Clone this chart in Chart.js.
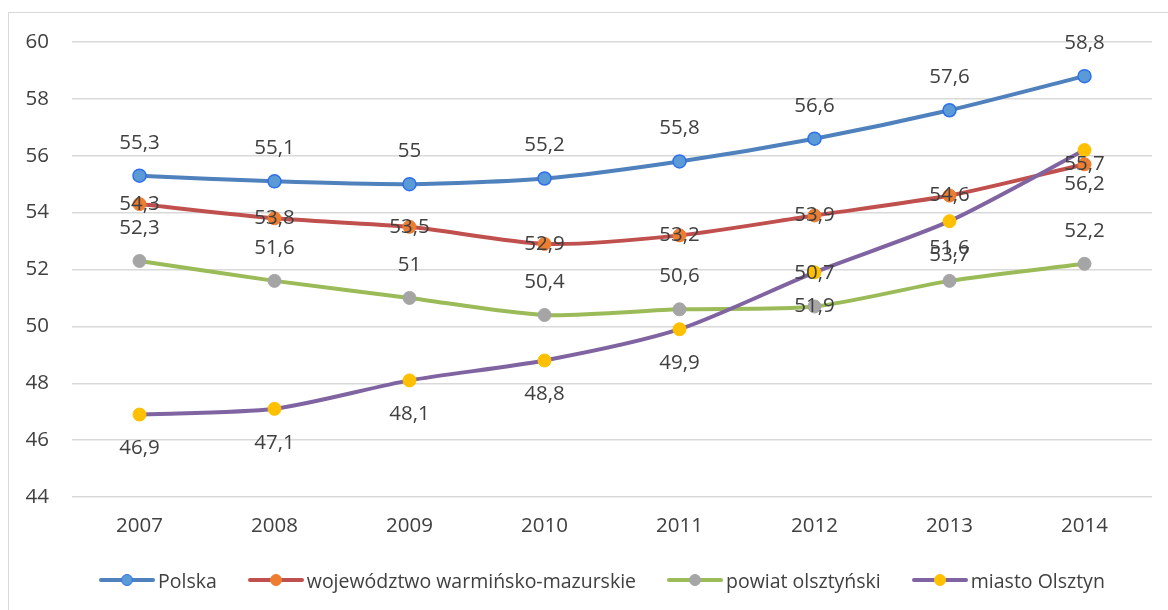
<!doctype html>
<html lang="pl">
<head>
    <meta charset="utf-8">
    <title>Wskaźnik 2007-2014</title>
    <script src="https://cdn.jsdelivr.net/npm/chart.js@4.4.1/dist/chart.umd.min.js"></script>
    <style>
        html, body {
            margin: 0;
            padding: 0;
            background: #ffffff;
            overflow: hidden;
        }
        .frame {
            position: absolute;
            left: 8px;
            top: 12px;
            width: 1200px;
            height: 640px;
            border: 1px solid #d9d9d9;
        }
        .wrap {
            position: absolute;
            left: 0;
            top: 0;
            width: 1168px;
            height: 610px;
        }
        .legend {
            position: absolute;
            left: 99px;
            top: 566px;
            height: 28px;
            display: flex;
            align-items: center;
            font-family: "Open Sans", sans-serif;
            font-size: 19.5px;
            color: #404040;
            white-space: nowrap;
        }
        .legend .item {
            display: flex;
            align-items: center;
            margin-right: 31px;
        }
        .legend .swatch {
            position: relative;
            width: 56px;
            height: 12px;
            margin-right: 3px;
        }
        .legend .swatch .ln {
            position: absolute;
            left: 0;
            top: 4px;
            width: 56px;
            height: 4px;
            border-radius: 2px;
        }
        .legend .swatch .dot {
            position: absolute;
            left: 22px;
            top: 0;
            width: 12px;
            height: 12px;
            box-sizing: border-box;
            border-radius: 50%;
        }
    </style>
</head>
<body>
<div class="frame"></div>
<div class="wrap">
    <canvas id="lineCanvas" width="1168" height="610"></canvas>
</div>
<div class="legend" id="legend"></div>

<script>
    // dane
    const years = ['2007', '2008', '2009', '2010', '2011', '2012', '2013', '2014'];
    const seriesNames = ['Polska', 'województwo warmińsko-mazurskie', 'powiat olsztyński', 'miasto Olsztyn'];
    const polska = [55.3, 55.1, 55, 55.2, 55.8, 56.6, 57.6, 58.8];
    const wojewodztwo = [54.3, 53.8, 53.5, 52.9, 53.2, 53.9, 54.6, 55.7];
    const powiat = [52.3, 51.6, 51, 50.4, 50.6, 50.7, 51.6, 52.2];
    const olsztyn = [46.9, 47.1, 48.1, 48.8, 49.9, 51.9, 53.7, 56.2];
    const yTicks = [44, 46, 48, 50, 52, 54, 56, 58, 60];

    const lineColors = ['#4f81bd', '#c0504d', '#9bbb59', '#8064a2'];
    const pointColors = ['#5b9bd5', '#ed7d31', '#a5a5a5', '#ffc000'];
    const pointBorders = ['#2f6fef', '#ed7d31', '#a5a5a5', '#ffc000'];
    const labelPlace = ['above', 'center', 'above', 'below'];

    const fontFamily = '"Open Sans", sans-serif';
    const textColor = '#404040';

    function formatPl(v) {
        return String(v).replace('.', ',');
    }

    // etykiety danych rysowane nad wszystkimi seriami
    const valueLabels = {
        id: 'valueLabels',
        afterDatasetsDraw(chart) {
            const ctx = chart.ctx;
            ctx.save();
            ctx.font = '20.5px ' + fontFamily;
            ctx.fillStyle = textColor;
            ctx.textAlign = 'center';
            ctx.textBaseline = 'middle';
            chart.data.datasets.forEach(function (ds, i) {
                const meta = chart.getDatasetMeta(i);
                meta.data.forEach(function (pt, j) {
                    let dy = 0;
                    if (labelPlace[i] === 'above') dy = -33;
                    if (labelPlace[i] === 'below') dy = 34;
                    ctx.fillText(formatPl(ds.data[j]), pt.x, pt.y + dy);
                });
            });
            ctx.restore();
        }
    };

    const allData = [polska, wojewodztwo, powiat, olsztyn];
    const datasets = allData.map(function (values, i) {
        return {
            label: seriesNames[i],
            data: values,
            borderColor: lineColors[i],
            borderWidth: 4,
            backgroundColor: pointColors[i],
            pointBackgroundColor: pointColors[i],
            pointBorderColor: pointBorders[i],
            pointBorderWidth: i === 0 ? 1.5 : 1,
            pointRadius: 6.5,
            pointHoverRadius: 6.5,
            tension: 0.25,
            order: 3 - i
        };
    });

    new Chart(document.getElementById('lineCanvas'), {
        type: 'line',
        data: {
            labels: years,
            datasets: datasets
        },
        options: {
            responsive: false,
            animation: false,
            layout: {
                padding: {top: 42, right: 16, bottom: 0, left: 0}
            },
            plugins: {
                legend: {display: false},
                tooltip: {enabled: false}
            },
            scales: {
                x: {
                    offset: true,
                    grid: {display: false, drawTicks: false},
                    border: {display: false},
                    ticks: {
                        color: textColor,
                        font: {family: fontFamily, size: 20.5},
                        padding: 17
                    },
                    afterFit: function (scale) {
                        scale.height = 113;
                    }
                },
                y: {
                    min: 44,
                    max: 60,
                    afterBuildTicks: function (scale) {
                        scale.ticks = yTicks.map(function (v) {
                            return {value: v};
                        });
                    },
                    grid: {color: '#d9d9d9', lineWidth: 1.5, drawTicks: false},
                    border: {display: false},
                    ticks: {
                        color: textColor,
                        font: {family: fontFamily, size: 20.5},
                        padding: 23
                    },
                    afterFit: function (scale) {
                        scale.width = 72;
                    }
                }
            }
        },
        plugins: [valueLabels]
    });

    // legenda
    const legend = document.getElementById('legend');
    seriesNames.forEach(function (name, i) {
        const item = document.createElement('div');
        item.className = 'item';
        item.innerHTML = '<div class="swatch"><div class="ln" style="background:' + lineColors[i] + '"></div>' +
            '<div class="dot" style="background:' + pointColors[i] + ';border:' + (i === 0 ? '1.5px' : '1px') +
            ' solid ' + pointBorders[i] + '"></div></div><span>' + name + '</span>';
        legend.appendChild(item);
    });
</script>
</body>
</html>
